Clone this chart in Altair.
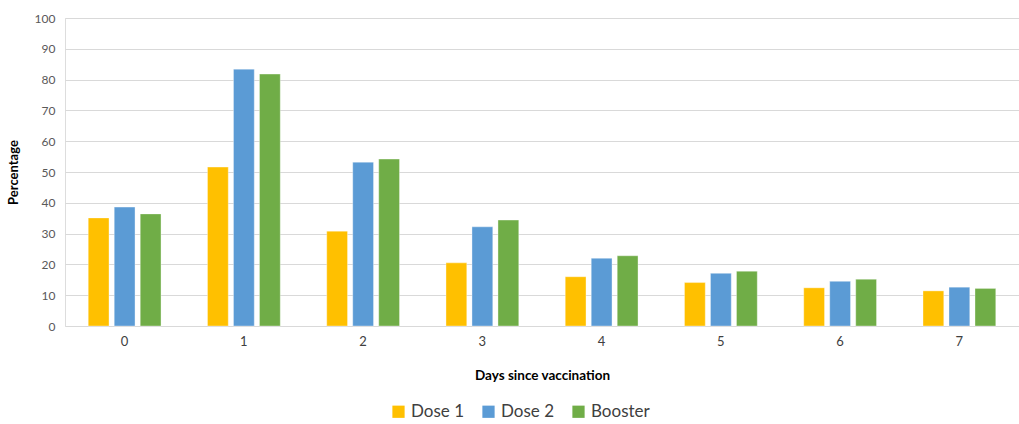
import altair as alt
import pandas as pd

days = ["0", "1", "2", "3", "4", "5", "6", "7"]
series = ["Dose 1", "Dose 2", "Booster"]
dose1 = [35.1, 51.6, 30.8, 20.5, 16.0, 14.1, 12.4, 11.4]
dose2 = [38.6, 83.4, 53.2, 32.2, 22.0, 17.1, 14.5, 12.6]
booster = [36.4, 81.8, 54.2, 34.4, 22.8, 17.8, 15.2, 12.2]
colors = ["#FFC000", "#5B9BD5", "#70AD47"]

rows = []
for name, vals in zip(series, [dose1, dose2, booster]):
    for d, v in zip(days, vals):
        rows.append({"day": d, "series": name, "value": v})
df = pd.DataFrame(rows)

FONT = "Lato"

chart = alt.Chart(df).mark_bar(stroke="white", strokeWidth=0.6, strokeOpacity=0.6).encode(
    x=alt.X("day:N", sort=days,
            scale=alt.Scale(paddingInner=0.346, paddingOuter=0.173),
            axis=alt.Axis(title="Days since vaccination", labelAngle=0, ticks=False, domain=False,
                          labelFontSize=13, labelColor="#404040", labelPadding=9,
                          titleFontSize=13.5, titleFontWeight="bold", titleColor="#000000",
                          titlePadding=20, labelFont=FONT, titleFont=FONT)),
    xOffset=alt.XOffset("series:N", sort=series,
                        scale=alt.Scale(paddingInner=0.2, paddingOuter=0.1)),
    y=alt.Y("value:Q", scale=alt.Scale(domain=[0, 100], nice=False),
            axis=alt.Axis(title="Percentage", values=list(range(0, 101, 10)), ticks=False, domain=False,
                          grid=True, gridColor="#d9d9d9", gridWidth=1.2,
                          labelFontSize=12, labelColor="#595959", labelPadding=10,
                          titleFontSize=13, titleFontWeight="bold", titleColor="#000000",
                          titlePadding=14, labelFont=FONT, titleFont=FONT)),
    color=alt.Color("series:N", sort=series,
                    scale=alt.Scale(domain=series, range=colors),
                    legend=alt.Legend(title=None, orient="none", direction="horizontal",
                                      legendX=325, legendY=385, symbolType="square",
                                      symbolSize=150, symbolStrokeWidth=0, symbolOpacity=1,
                                      labelFontSize=17, labelColor="#404040", labelFont=FONT,
                                      columnPadding=16, labelOffset=4)),
).properties(
    width=954, height=308,
    autosize=alt.AutoSizeParams(type="none"),
    padding={"left": 65, "top": 18, "right": 0, "bottom": 98},
).configure_view(stroke=None).configure(background="white")

chart.save("out.html", embed_options={"renderer": "svg", "actions": False})
